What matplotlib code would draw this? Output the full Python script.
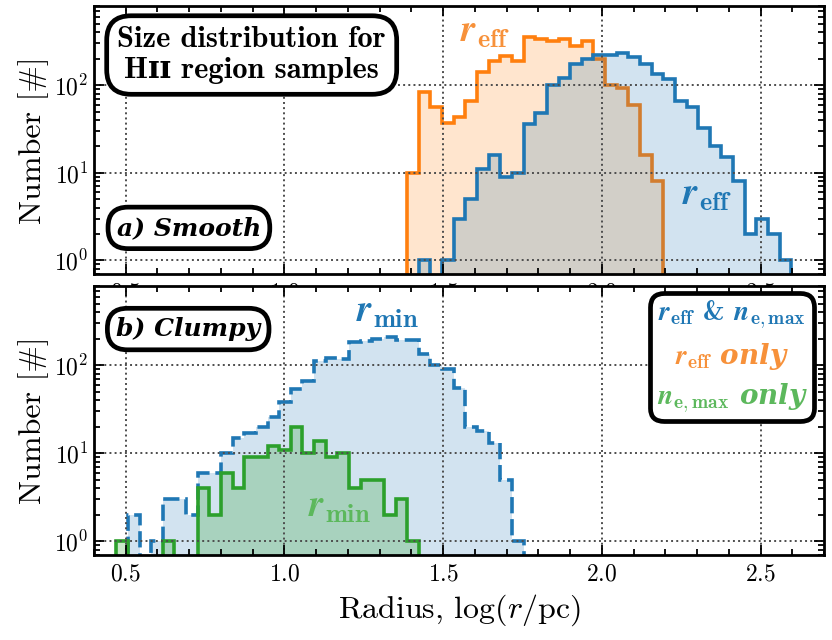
import numpy as np
import matplotlib
matplotlib.use("Agg")
import matplotlib.pyplot as plt
from matplotlib.offsetbox import AnchoredOffsetbox, TextArea, VPacker
from matplotlib.ticker import MultipleLocator, LogLocator, NullFormatter

plt.rcParams["font.family"] = "serif"
plt.rcParams["font.serif"] = ["cmr10"]
plt.rcParams["mathtext.fontset"] = "cm"
plt.rcParams["axes.formatter.use_mathtext"] = True

# shared bins in log(r/pc)
bin_edges = np.linspace(0.47, 2.597, 59)

# a) Smooth, r_eff
reff_both_start = 26
reff_both = [1, 0, 1, 3, 5, 11, 16, 9, 10, 36, 48, 100, 122, 174, 197, 220,
             220, 230, 211, 174, 134, 116, 66, 57, 32, 20, 15, 8, 2, 3, 2, 1]
reff_only_start = 25
reff_only = [10, 84, 57, 37, 43, 66, 142, 190, 214, 190, 357, 332, 316, 332,
             279, 321, 197, 100, 92, 59, 16, 8]

# b) Clumpy, r_min
rmin_both_start = 1
rmin_both = [2, 0, 1, 3, 3, 2, 6, 6, 10, 15, 17, 20, 26, 38, 54, 66, 112, 122,
             118, 185, 190, 202, 213, 196, 196, 134, 100, 92, 55, 20, 18, 13, 5, 1]
rmin_ne_start = 0
rmin_ne = [1, 0, 0, 0, 1, 0, 0, 4, 2, 6, 4, 9, 9, 12, 11, 20, 10, 14, 9, 10,
           4, 5, 5, 2, 3, 1]

c_blue = "#1f77b4"
c_orange = "#ff7f0e"
c_green = "#2ca02c"
c_orange_txt = "#f7913a"
c_green_txt = "#5cb85c"

fig = plt.figure(figsize=(8.32, 6.4), dpi=100)
ax1 = fig.add_axes([0.113, 0.5719, 0.8774, 0.41875])
ax2 = fig.add_axes([0.113, 0.1328, 0.8774, 0.4203])


def draw(ax, start, counts, color, ls="-", falpha=0.2):
    edges = bin_edges[start:start + len(counts) + 1]
    vals = np.array(counts, dtype=float)
    ax.stairs(vals, edges, baseline=0.01, fill=True, color=color,
              alpha=falpha, lw=0)
    ax.stairs(vals, edges, baseline=0.01, color=color, lw=2.6, ls=ls)


draw(ax1, reff_only_start, reff_only, c_orange)
draw(ax1, reff_both_start, reff_both, c_blue)
draw(ax2, rmin_both_start, rmin_both, c_blue, ls=(0, (4.5, 1.6)))
draw(ax2, rmin_ne_start, rmin_ne, c_green, falpha=0.25)

for ax in (ax1, ax2):
    ax.set_yscale("log")
    ax.set_xlim(0.4, 2.7)
    ax.set_ylim(0.7, 800)
    ax.xaxis.set_major_locator(MultipleLocator(0.5))
    ax.xaxis.set_minor_locator(MultipleLocator(0.1))
    ax.yaxis.set_major_locator(LogLocator(base=10))
    ax.yaxis.set_minor_locator(LogLocator(base=10, subs=np.arange(2, 10)))
    ax.yaxis.set_minor_formatter(NullFormatter())
    ax.tick_params(which="both", direction="in", top=True, right=True,
                   labelsize=17, width=1.3)
    ax.tick_params(which="major", length=7, pad=6)
    ax.tick_params(which="minor", length=4)
    ax.tick_params(axis="y", which="major", pad=4)
    ax.grid(True, which="major", ls=":", color="0.3", lw=1.4)
    for s in ax.spines.values():
        s.set_linewidth(2)
    ax.set_ylabel(r"Number [#]", fontsize=23, labelpad=4)

ax2.set_xlabel(r"Radius, $\log(r/\mathrm{pc})$", fontsize=23, labelpad=5)

box = dict(boxstyle="round,pad=0.35,rounding_size=0.8", fc="white", ec="black", lw=3.4)
bi = dict(family="DejaVu Serif", style="italic", weight="bold")

ax1.text(0.216, 0.817, "Size distribution for\nH\u026a\u026a region samples",
         transform=ax1.transAxes, ha="center", va="center", fontsize=22,
         family=["cmb10", "DejaVu Serif"], fontweight="bold",
         linespacing=1.15, bbox=box)
ax1.text(0.13, 0.172, "a) Smooth", transform=ax1.transAxes, ha="center",
         va="center", fontsize=18, bbox=box, **bi)
ax2.text(0.129, 0.84, "b) Clumpy", transform=ax2.transAxes, ha="center",
         va="center", fontsize=18, bbox=box, **bi)

# curve labels
ax1.text(1.63, 390, r"$\mathbfit{r}_{\mathbf{eff}}$", color=c_orange_txt,
         fontsize=27, ha="center", va="center")
ax1.text(2.33, 5.4, r"$\mathbfit{r}_{\mathbf{eff}}$", color=c_blue,
         fontsize=27, ha="center", va="center")
ax2.text(1.323, 394, r"$\mathbfit{r}_{\mathbf{min}}$", color=c_blue,
         fontsize=27, ha="center", va="center")
ax2.text(1.172, 2.37, r"$\mathbfit{r}_{\mathbf{min}}$", color=c_green_txt,
         fontsize=27, ha="center", va="center")

# sample legend
rows = [
    (r"$\mathbfit{r}_{\mathbf{eff}}$ & $\mathbfit{n}_{\mathbf{e,max}}$", c_blue,
     dict(family="cmb10")),
    (r"$\mathbfit{r}_{\mathbf{eff}}$ only", c_orange_txt, bi),
    (r"$\mathbfit{n}_{\mathbf{e,max}}$ only", c_green_txt, bi),
]
vp = VPacker(children=[TextArea(t, textprops=dict(color=c, fontsize=20, **p))
                       for t, c, p in rows], align="center", pad=0, sep=7)
ab = AnchoredOffsetbox(loc="center", child=vp, pad=0.45, borderpad=0,
                       frameon=True, bbox_to_anchor=(0.874, 0.736),
                       bbox_transform=ax2.transAxes)
ab.patch.set_boxstyle("round,pad=0,rounding_size=1.0")
ab.patch.set_linewidth(3.4)
ab.patch.set_edgecolor("black")
ax2.add_artist(ab)

fig.savefig("out.png", dpi=100)
